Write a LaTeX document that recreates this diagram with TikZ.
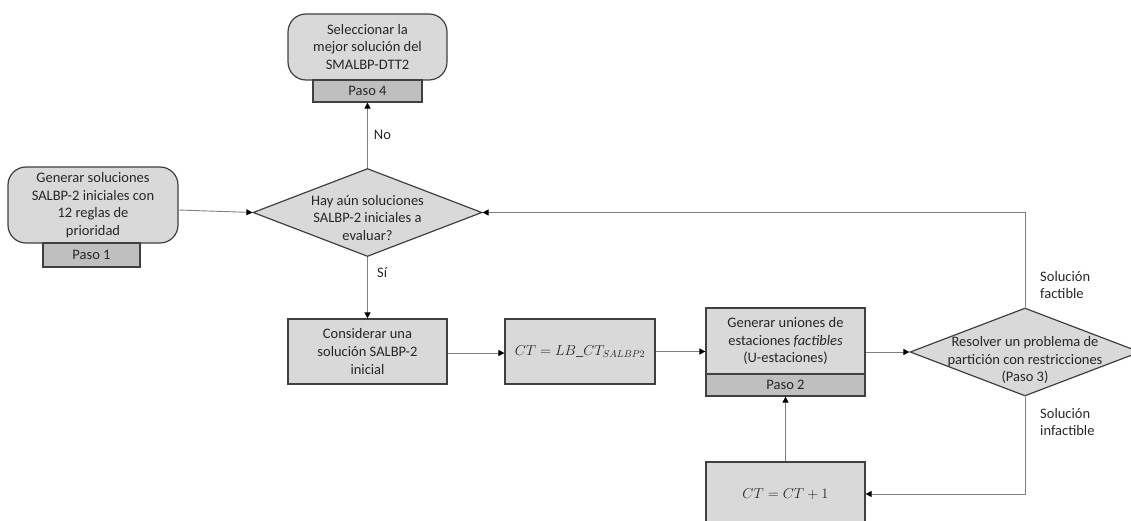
\documentclass[tikz,border=0pt]{standalone}
\usepackage{fontspec}
\setmainfont{Carlito}
\usetikzlibrary{shapes.geometric,arrows.meta,calc}
\definecolor{boxfill}{HTML}{D9D9D9}
\definecolor{stepfill}{HTML}{BFBFBF}
\definecolor{edgecol}{HTML}{404040}
\definecolor{linecol}{HTML}{808080}
\definecolor{txtcol}{HTML}{262626}
\begin{document}
\begin{tikzpicture}[x=1pt,y=-1pt,
  every node/.style={text=txtcol,font=\fontsize{14.5}{17.6}\selectfont},
  procbox/.style={draw=edgecol,fill=boxfill,line width=1.2pt,inner sep=0pt,align=center},
  roundbox/.style={procbox,rounded corners=18pt},
  stepbox/.style={draw=edgecol,fill=stepfill,line width=1.2pt,inner sep=0pt,align=center},
  decision/.style={diamond,draw=edgecol,fill=boxfill,line width=1.2pt,inner sep=0pt},
  flow/.style={draw=linecol,line width=0.9pt,-{Triangle[length=6pt,width=6pt,fill=black,color=black]}},
  lbl/.style={align=left,inner sep=0pt}
]
\useasboundingbox (0,0) rectangle (1131,521);

% Paso 4: final selection
\node[roundbox,minimum width=159pt,minimum height=66pt] (sel) at (367.5,47)
  {Seleccionar la\\mejor solución del\\SMALBP-DTT2};
\node[stepbox,minimum width=109pt,minimum height=22pt] (p4) at (367.5,91) {Paso 4};

% Paso 1: initial solutions
\node[roundbox,minimum width=170pt,minimum height=76pt] (gen) at (93,205)
  {Generar soluciones\\SALBP-2 iniciales con\\12 reglas de\\prioridad};
\node[stepbox,minimum width=97pt,minimum height=24pt] (p1) at (91.5,255) {Paso 1};

% first decision
\node[decision,minimum width=229pt,minimum height=88pt] (d1) at (367.5,212.5) {};
\node[align=center,inner sep=0pt] (d1t) at (367.5,218)
  {Hay aún soluciones\\SALBP-2 iniciales a\\evaluar?};

% main row
\node[procbox,minimum width=159pt,minimum height=65pt] (cons) at (367.5,351.5)
  {Considerar una\\solución SALBP-2\\inicial};
\node[procbox,minimum width=150pt,minimum height=65pt] (ct) at (580,351.5)
  {$CT = LB\_CT_{SALBP2}$};
\node[procbox,minimum width=159pt,minimum height=66pt] (un) at (785.5,341)
  {Generar uniones de\\estaciones \textit{factibles}\\(U-estaciones)};
\node[stepbox,minimum width=159pt,minimum height=22pt] (p2) at (785.5,385) {Paso 2};

% second decision
\node[decision,minimum width=230pt,minimum height=88pt] (d2) at (1025,352) {};
\node[align=center,inner sep=0pt] (d2t) at (1025,360)
  {Resolver un problema de\\partición con restricciones\\(Paso 3)};

% cycle time increment
\node[procbox,minimum width=159pt,minimum height=64pt] (ct1) at (785.5,494)
  {$CT = CT + 1$};

% connectors
\draw[flow] ([yshift=-5pt]gen.east) -- (d1.west);
\draw[flow] (d1.north) -- node[right=6pt,lbl] (no) {No} (p4.south);
\draw[flow] (d1.south) -- (cons.north);
\node[lbl,anchor=west] (si) at (377,273) {Sí};
\draw[flow] ([yshift=-1.5pt]cons.east) -- ([yshift=-1.5pt]ct.west);
\draw[flow] (ct.east) -- (ct.east -| un.west);
\draw[flow] (d2.west -| un.east) -- (d2.west);
\draw[flow] (d2.north) |- (d1.east);
\draw[flow] (d2.south) |- (ct1.east);
\draw[flow] (ct1.north) -- (p2.south);

% branch labels
\node[lbl,anchor=west] (fact) at (1040,285) {Solución\\factible};
\node[lbl,anchor=west] (infact) at (1040,422) {Solución\\infactible};
\end{tikzpicture}
\end{document}
